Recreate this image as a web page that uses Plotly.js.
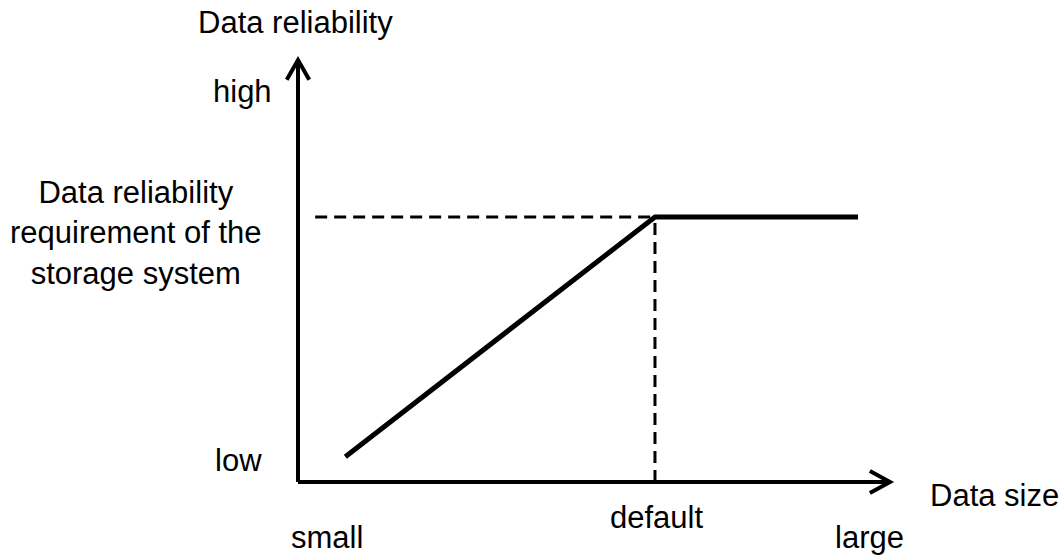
<!DOCTYPE html>
<html>
<head>
<meta charset="utf-8">
<script src="https://cdn.plot.ly/plotly-3.0.1.min.js"></script>
<style>html,body{margin:0;padding:0;background:#fff;}#chart{width:1062px;height:557px;}</style>
</head>
<body>
<div id="chart"></div>
<script>
// Conceptual data (x: data size 0-100, y: reliability 0-100)
var curveX = [8, 60.3, 94.6];
var curveY = [6, 62.8, 62.8];
var defaultX = 60.3;
var requirementY = 62.8;

var xTickLabels = ["small", "default", "large"];
var xTickPos = [4.9, 60.6, 96.6];
var yTickLabels = ["low", "high"];
var yTickPos = [5.2, 92.6];

var axisFont = {family: "Liberation Sans, Arial, sans-serif", size: 31, color: "#000"};

var traces = [
  {x: curveX, y: curveY, mode: "lines", line: {color: "#000", width: 5}, cliponaxis: false, hoverinfo: "skip"}
];

function p(v) { return v / 100; }

var shapes = [
  // y axis
  {type: "line", xref: "paper", yref: "paper", x0: 0, x1: 0, y0: 0, y1: 1, line: {color: "#000", width: 4}},
  // x axis
  {type: "line", xref: "paper", yref: "paper", x0: 0, x1: 1, y0: 0, y1: 0, line: {color: "#000", width: 4}},
  // arrow heads
  {type: "path", xref: "paper", yref: "paper", path: "M -0.019,0.953 L 0,1 L 0.019,0.953", line: {color: "#000", width: 4}},
  {type: "path", xref: "paper", yref: "paper", path: "M 0.966,0.026 L 1,0 L 0.966,-0.026", line: {color: "#000", width: 4}},
  // dashed guides
  {type: "line", xref: "x", yref: "y", x0: 2.9, x1: defaultX, y0: requirementY, y1: requirementY, line: {color: "#000", width: 3, dash: "12px,7px"}},
  {type: "line", xref: "x", yref: "y", x0: defaultX, x1: defaultX, y0: 0, y1: requirementY, line: {color: "#000", width: 3, dash: "12px,7px"}}
];

function ann(text, x, y, extra) {
  var a = {text: text, x: p(x), y: p(y), xref: "paper", yref: "paper", showarrow: false,
           xanchor: "center", yanchor: "middle", align: "center", font: axisFont};
  for (var k in (extra || {})) a[k] = extra[k];
  return a;
}

var annotations = [
  ann("Data reliability", -0.4, 109),
  ann("Data size", 117.6, -3.1),
  ann("Data reliability<br>requirement of the<br>storage system", -27.4, 59),
  ann(xTickLabels[0], xTickPos[0], -17.77, {yanchor: "bottom"}),
  ann(xTickLabels[1], xTickPos[1], -8.5),
  ann(xTickLabels[2], xTickPos[2], -17.77, {yanchor: "bottom"}),
  ann(yTickLabels[0], -10.1, yTickPos[0]),
  ann(yTickLabels[1], -9.4, yTickPos[1])
];

var layout = {
  width: 1062, height: 557,
  margin: {l: 298, r: 172, t: 60, b: 75, pad: 0},
  paper_bgcolor: "#fff", plot_bgcolor: "#fff",
  showlegend: false,
  xaxis: {range: [0, 100], visible: false, fixedrange: true},
  yaxis: {range: [0, 100], visible: false, fixedrange: true},
  shapes: shapes,
  annotations: annotations
};

Plotly.newPlot("chart", traces, layout, {displayModeBar: false, staticPlot: true});
</script>
</body>
</html>
